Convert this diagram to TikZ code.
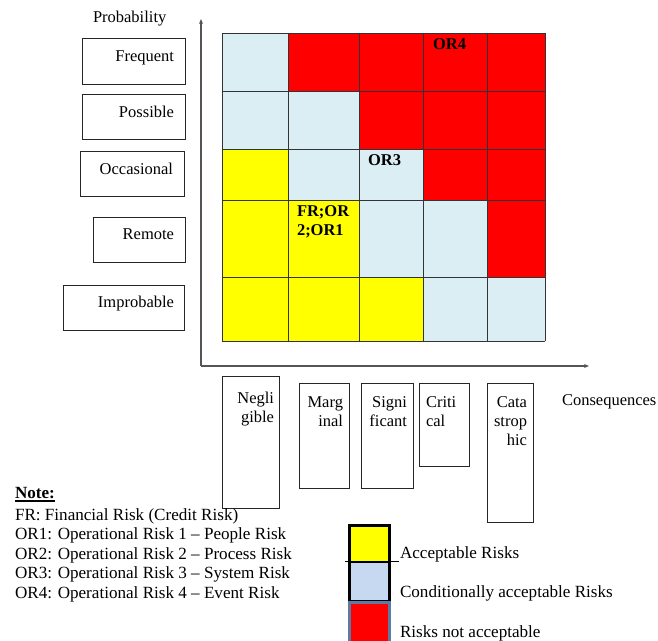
\documentclass[tikz,border=0pt]{standalone}
\usepackage{fontspec}
\usetikzlibrary{arrows.meta}
\setmainfont{Liberation Serif}
\definecolor{riskred}{HTML}{FF0000}
\definecolor{riskyellow}{HTML}{FFFF00}
\definecolor{riskblue}{HTML}{DAEEF3}
\definecolor{legblue}{HTML}{C6D9F1}
\definecolor{legedge}{HTML}{5B7BA6}
\definecolor{axisgray}{HTML}{555555}
\begin{document}
\begin{tikzpicture}[x=1pt,y=-1pt,
  every node/.style={inner sep=0pt, outer sep=0pt, font=\fontsize{16.5}{19}\selectfont},
  scalebox/.style={draw=black!85, line width=0.9pt, fill=white, rectangle, anchor=north west},
  cellword/.style={anchor=base west, font=\bfseries\fontsize{16.5}{19}\selectfont},
  gridline/.style={draw=black!80, line width=0.9pt},
  axisline/.style={draw=axisgray, line width=1.1pt, -{Stealth[length=5pt,width=4pt]}},
  legbox/.style={rectangle, anchor=north west, line width=2.6pt, minimum width=40pt},
  plain/.style={anchor=base west},
  notetext/.style={anchor=base west, font=\fontsize{17.1}{19.5}\selectfont}
]
\useasboundingbox (0,0) rectangle (658,640);

% ---- risk matrix cells ----
\fill[riskblue] (222,33) rectangle (545,341);
\fill[riskred] (288,33) -- (545,33) -- (545,277) -- (487,277) -- (487,200)
  -- (423,200) -- (423,149) -- (359,149) -- (359,91) -- (288,91) -- cycle;
\fill[riskyellow] (222,149) -- (288,149) -- (288,200) -- (359,200) -- (359,277)
  -- (423,277) -- (423,341) -- (222,341) -- cycle;
\foreach \gx in {222,288,359,423,487,545}
  \draw[gridline] (\gx,33) -- (\gx,341);
\foreach \gy in {33,91,149,200,277,341}
  \draw[gridline] (222,\gy) -- (545,\gy);

\node[cellword] (or4) at (433,49) {OR4};
\node[cellword] (or3) at (368,165) {OR3};
\node[cellword, anchor=north west, align=left] (fror) at (297,206) {FR;OR\\2;OR1};

% ---- axes ----
\coordinate (origin) at (201,366);
\coordinate (ytip) at (201,19);
\coordinate (xtip) at (589,366);
\draw[axisline] (origin) -- (ytip);
\draw[axisline] (origin) -- (xtip);

\node[plain] (problbl) at (93,22) {Probability};
\node[plain] (conslbl) at (562,405) {Consequences};

% ---- probability scale ----
\node[scalebox, minimum width=103pt, minimum height=46pt] (pfreq) at (82,38) {};
\node[anchor=base east] (tfreq) at ([xshift=-11pt,yshift=-23pt]pfreq.north east) {Frequent};
\node[scalebox, minimum width=103pt, minimum height=45pt] (pposs) at (82,94) {};
\node[anchor=base east] (tposs) at ([xshift=-11pt,yshift=-23pt]pposs.north east) {Possible};
\node[scalebox, minimum width=104pt, minimum height=45pt] (pocca) at (80,151) {};
\node[anchor=base east] (tocca) at ([xshift=-11pt,yshift=-23pt]pocca.north east) {Occasional};
\node[scalebox, minimum width=92pt, minimum height=45pt] (prem) at (93,217) {};
\node[anchor=base east] (trem) at ([xshift=-11pt,yshift=-22pt]prem.north east) {Remote};
\node[scalebox, minimum width=121pt, minimum height=45pt] (pimp) at (63,285) {};
\node[anchor=base east] (timp) at ([xshift=-10pt,yshift=-22pt]pimp.north east) {Improbable};

% ---- consequence scale ----
\node[scalebox, minimum width=57pt, minimum height=132pt] (cneg) at (222,376) {};
\node[anchor=north east, align=right] (tneg) at ([xshift=-5pt,yshift=-16pt]cneg.north east) {Negli\\gible};
\node[scalebox, minimum width=50pt, minimum height=105pt] (cmar) at (299,383) {};
\node[anchor=north east, align=right] (tmar) at ([xshift=-6pt,yshift=-14pt]cmar.north east) {Marg\\inal};
\node[scalebox, minimum width=52pt, minimum height=105pt] (csig) at (361,383) {};
\node[anchor=north east, align=right] (tsig) at ([xshift=-6pt,yshift=-14pt]csig.north east) {Signi\\ficant};
\node[scalebox, minimum width=50pt, minimum height=83pt] (ccri) at (419,383) {};
\node[anchor=north west, align=left] (tcri) at ([xshift=7pt,yshift=-14pt]ccri.north west) {Criti\\cal};
\node[scalebox, minimum width=46pt, minimum height=139pt] (ccat) at (487,383) {};
\node[anchor=north east, align=right] (tcat) at ([xshift=-6pt,yshift=-14pt]ccat.north east) {Cata\\strop\\hic};

% ---- note ----
\node[notetext, font=\bfseries\fontsize{17.1}{19.5}\selectfont] (notehd) at (15,498) {Note:};
\draw[line width=1.8pt] ([yshift=-3.2pt]notehd.base west) -- ([yshift=-3.2pt]notehd.base east);
\node[notetext] (nfr) at (15,520) {FR: Financial Risk (Credit Risk)};
\node[notetext] (nor1) at (15,539.5) {OR1: Operational Risk 1 – People Risk};
\node[notetext] (nor2) at (15,559) {OR2: Operational Risk 2 – Process Risk};
\node[notetext] (nor3) at (15,578.5) {OR3: Operational Risk 3 – System Risk};
\node[notetext] (nor4) at (15,598) {OR4: Operational Risk 4 – Event Risk};

% ---- legend ----
\node[legbox, draw=black, fill=riskyellow, minimum height=36.5pt] (lacc) at (349.3,525.3) {};
\node[legbox, draw=black, fill=legblue, minimum height=39pt] (lcond) at (349.3,561.8) {};
\node[legbox, draw=legedge, fill=riskred, minimum height=40pt] (lnot) at (349.3,602.3) {};
\draw[line width=1.3pt] ([xshift=-4pt]lacc.south west) -- ([xshift=10pt]lacc.south east);
\node[notetext] (tacc) at (400,558) {Acceptable Risks};
\node[notetext] (tcond) at (400,597) {Conditionally acceptable Risks};
\node[notetext] (tnot) at (400,637) {Risks not acceptable};
\end{tikzpicture}
\end{document}
